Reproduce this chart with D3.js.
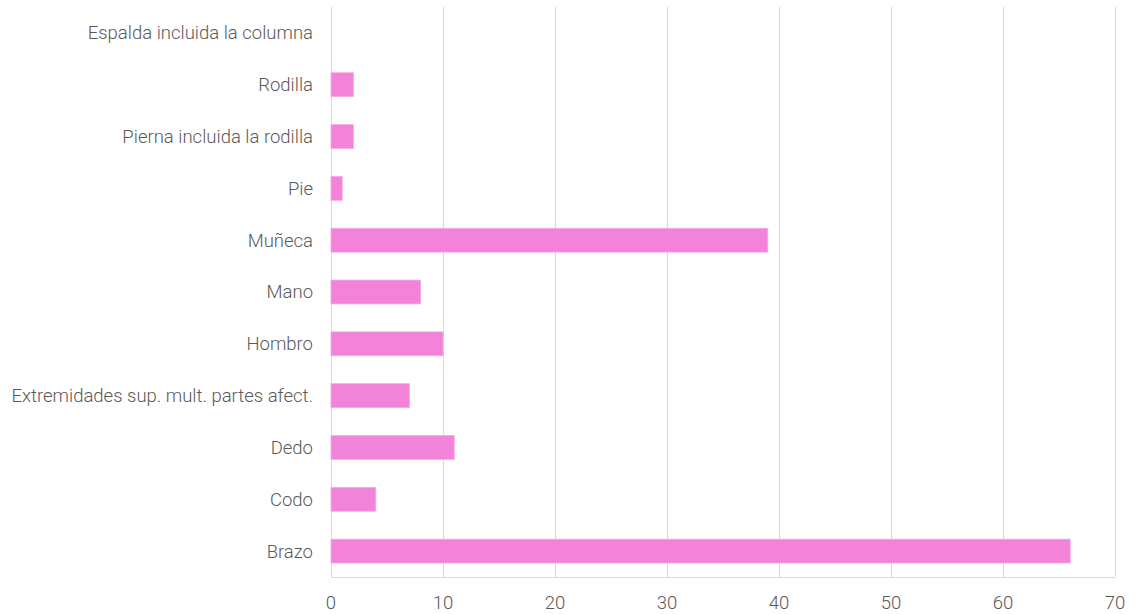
<!DOCTYPE html>
<html><head><meta charset="utf-8">
<script src="https://cdn.jsdelivr.net/npm/d3@7"></script>
<style>body{margin:0;background:#fff;} text{font-family:Roboto, sans-serif;font-weight:300;}</style>
</head><body>
<svg id="c" width="1139" height="614"></svg>
<script>
const categories = ["Espalda incluida la columna","Rodilla","Pierna incluida la rodilla","Pie","Muñeca","Mano","Hombro","Extremidades sup. mult. partes afect.","Dedo","Codo","Brazo"];
const values = [0,2,2,1,39,8,10,7,11,4,66];
const xTicks = [0,10,20,30,40,50,60,70];

const svg = d3.select("#c");
const m = {left:331, right:1115, top:7, bottom:577};
const x = d3.scaleLinear().domain([0,70]).range([m.left,m.right]);
const y = d3.scaleBand().domain(categories).range([m.top,m.bottom]).paddingInner(0.54).paddingOuter(0.27);

// gridlines
svg.append("g").selectAll("line").data(xTicks).join("line")
  .attr("x1",d=>x(d)+0.5).attr("x2",d=>x(d)+0.5).attr("y1",m.top).attr("y2",m.bottom)
  .attr("stroke","#d9d9d9").attr("stroke-width",1);
svg.append("line").attr("x1",m.left).attr("x2",m.right).attr("y1",m.bottom+0.5).attr("y2",m.bottom+0.5).attr("stroke","#d9d9d9");

// bars
svg.append("g").selectAll("rect").data(values).join("rect")
  .attr("x",x(0)).attr("y",(d,i)=>y(categories[i]))
  .attr("width",d=>x(d)-x(0)).attr("height",y.bandwidth())
  .attr("fill","#f283d9").attr("stroke","#f5a8e4").attr("stroke-width",0.8);

// y labels
svg.append("g").selectAll("text").data(categories).join("text")
  .attr("x",m.left-18).attr("y",d=>y(d)+y.bandwidth()/2).attr("dy","0.35em")
  .attr("text-anchor","end").attr("font-size",18.5).attr("fill","#595959").text(d=>d);

// x labels
svg.append("g").selectAll("text").data(xTicks).join("text")
  .attr("x",d=>x(d)).attr("y",603).attr("dy","0.35em")
  .attr("text-anchor","middle").attr("font-size",18.5).attr("fill","#595959").text(d=>d);
</script>
</body></html>
